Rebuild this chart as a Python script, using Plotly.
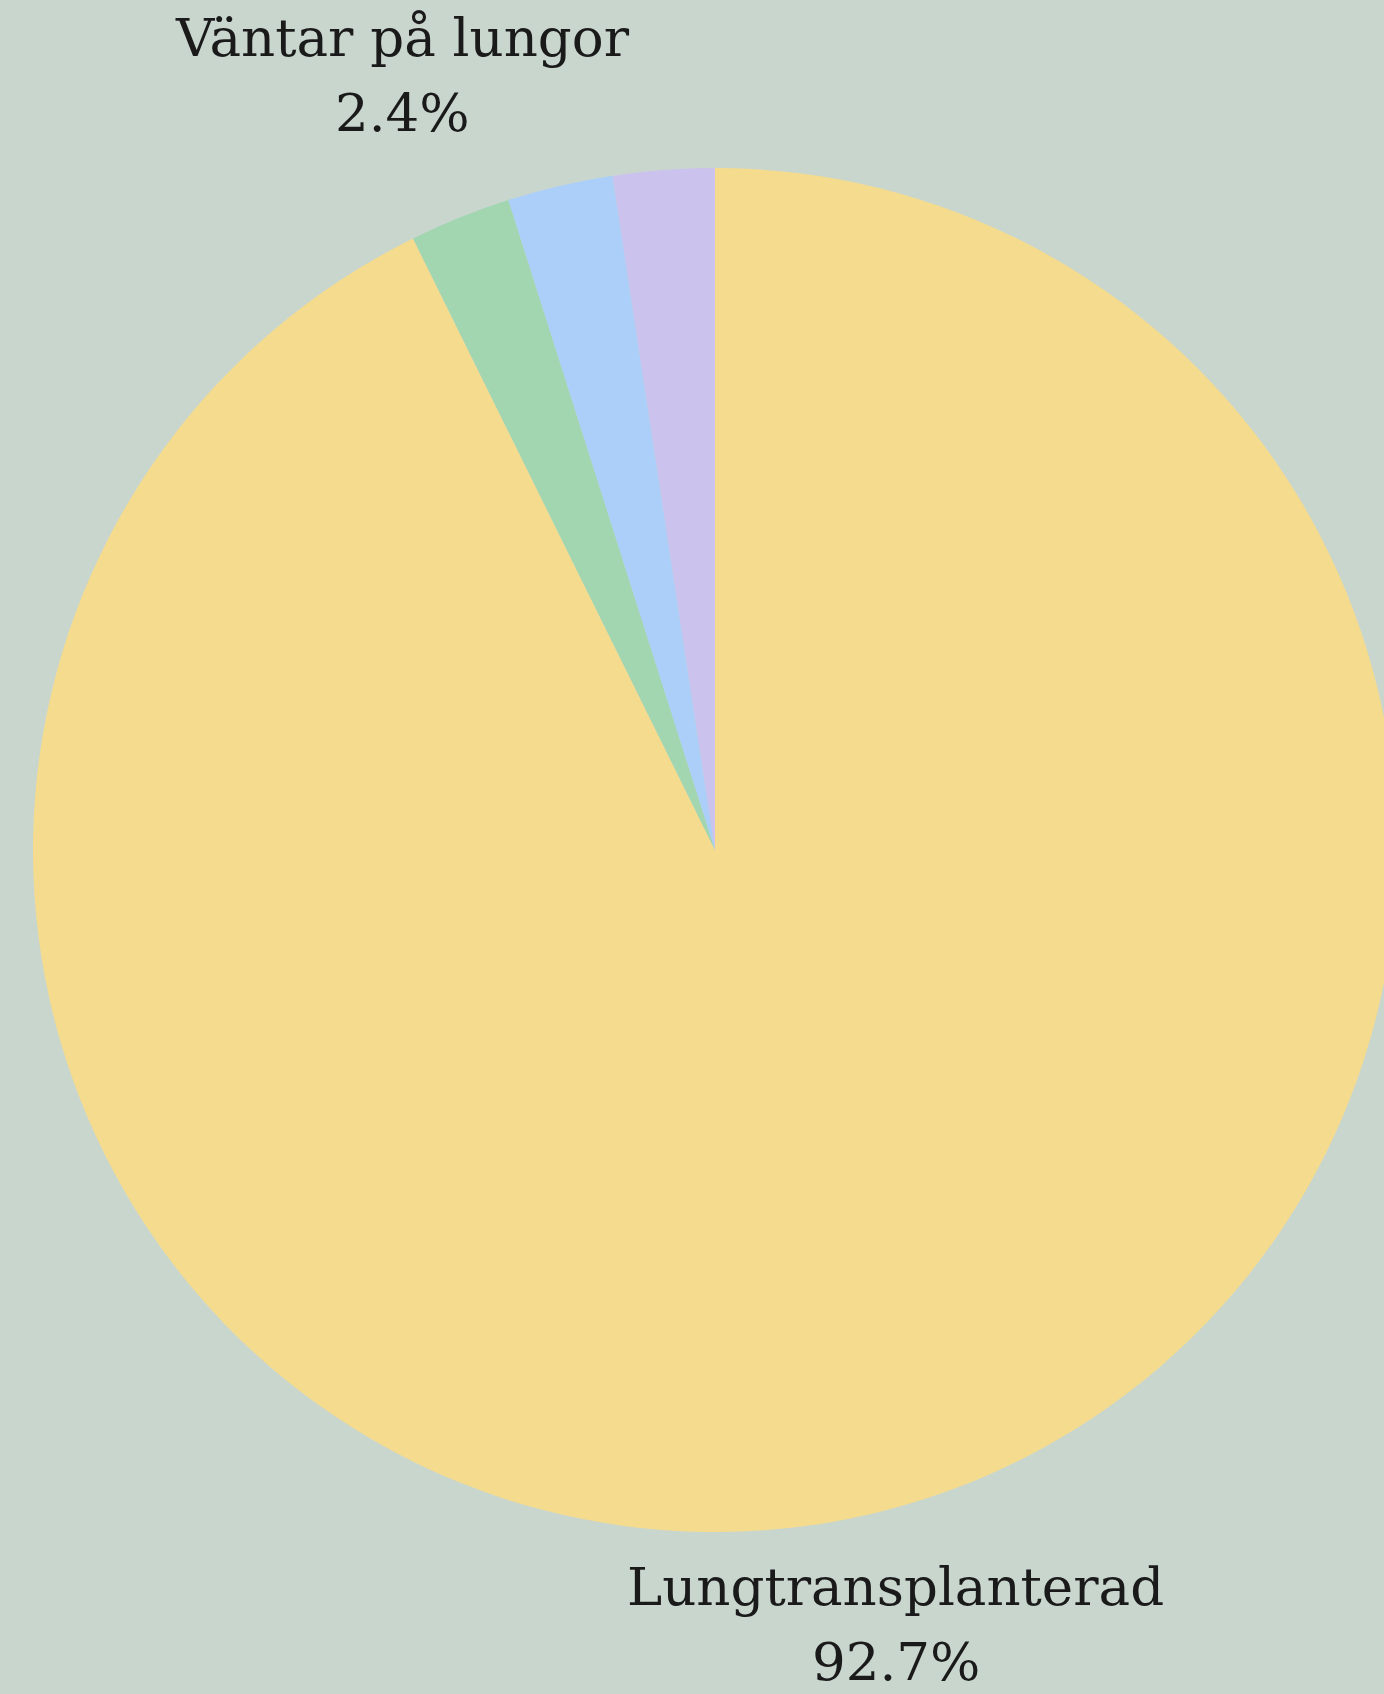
import math
import plotly.graph_objects as go

labels = ["Lungtransplanterad", "Väntar på lungor", "Avliden på väntelistan", "Avförd från väntelistan"]
values = [92.7, 2.4, 2.5, 2.4]
colors = ["#F4DB8E", "#A1D6B0", "#ABCFF9", "#CBC2EE"]
show_label = [True, True, False, False]

W, H = 1430, 1694
dom_y = [0.0956, 0.9008]
font = dict(family="DejaVu Serif", size=53, color="#1a1a1a")

fig = go.Figure(go.Pie(
    labels=labels,
    values=values,
    sort=False,
    direction="clockwise",
    rotation=0,
    marker=dict(colors=colors, line=dict(width=0)),
    textinfo="none",
    hovertemplate="%{label}<br>%{percent:.1%}<extra></extra>",
    domain=dict(x=[0, 1], y=dom_y),
    showlegend=False,
))

# outside labels, placed on each slice's middle ray
cx, cy = W / 2, H * (1 - (dom_y[0] + dom_y[1]) / 2)
r = H * (dom_y[1] - dom_y[0]) / 2
total = sum(values)
cum = 0.0
annotations = []
for lab, v, show in zip(labels, values, show_label):
    frac = (cum + v / 2) / total
    cum += v
    if not show:
        continue
    th = 2 * math.pi * frac
    t = 1.135 * r / abs(math.cos(th))
    px = cx + t * math.sin(th)
    py = cy - t * math.cos(th)
    for txt, off in ((lab, -38), (f"{v / total * 100:.1f}%", 37)):
        annotations.append(dict(
            x=px / W, y=1 - (py + off) / H, xref="paper", yref="paper",
            text=txt, showarrow=False, xanchor="center", yanchor="middle",
            font=font,
        ))

fig.update_layout(
    width=W,
    height=H,
    margin=dict(l=0, r=0, t=0, b=0),
    paper_bgcolor="#C9D6CE",
    plot_bgcolor="#C9D6CE",
    annotations=annotations,
)

fig.write_html(
    "out.html",
    config={"displayModeBar": False},
    post_script="document.body.style.margin='0';document.body.style.overflow='hidden';document.documentElement.style.overflow='hidden';",
)
